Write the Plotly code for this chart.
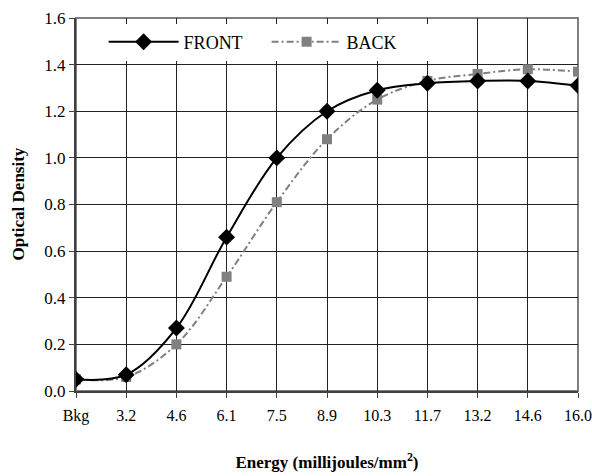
import plotly.graph_objects as go

categories = ["Bkg", "3.2", "4.6", "6.1", "7.5", "8.9", "10.3", "11.7", "13.2", "14.6", "16.0"]
front = [0.05, 0.07, 0.27, 0.66, 1.00, 1.20, 1.29, 1.32, 1.33, 1.33, 1.31]
back = [0.05, 0.06, 0.20, 0.49, 0.81, 1.08, 1.25, 1.33, 1.36, 1.38, 1.37]

FONT = "Liberation Serif, Times New Roman, serif"

fig = go.Figure()
fig.add_trace(go.Scatter(
    x=categories, y=back, name="BACK", mode="lines+markers",
    line=dict(color="#808080", width=2, dash="7px,3px,2px,3px", shape="spline", smoothing=1),
    marker=dict(symbol="square", size=10, color="#808080"),
))
fig.add_trace(go.Scatter(
    x=categories, y=front, name="FRONT", mode="lines+markers",
    line=dict(color="#000000", width=2, shape="spline", smoothing=1),
    marker=dict(symbol="diamond", size=13, color="#000000"),
))

fig.update_layout(
    width=592, height=476,
    margin=dict(l=76, r=14, t=18, b=85),
    paper_bgcolor="white", plot_bgcolor="white",
    font=dict(family=FONT, size=16, color="#000"),
    showlegend=True,
    legend=dict(
        orientation="h", x=0.055, y=0.985, xanchor="left", yanchor="top",
        bgcolor="white", font=dict(family=FONT, size=18, color="#000"),
        traceorder="reversed", itemwidth=70, entrywidth=78,
    ),
    xaxis=dict(
        type="category", range=[0, len(categories) - 1],
        automargin=False, ticklabeloverflow="allow",
        showgrid=True, gridcolor="#222", gridwidth=1,
        showline=True, linecolor="#404040", linewidth=2,
        ticks="outside", ticklen=5, tickcolor="#404040",
        ticklabelstandoff=4,
        tickfont=dict(family=FONT, size=16),
        title=dict(text="<b>Energy (millijoules/mm<sup>2</sup>)</b>", font=dict(family=FONT, size=17), standoff=32),
        zeroline=False,
    ),
    yaxis=dict(
        range=[0, 1.6], dtick=0.2, tickformat=".1f",
        automargin=False,
        showgrid=True, gridcolor="#222", gridwidth=1,
        showline=True, linecolor="#404040", linewidth=2,
        ticks="outside", ticklen=5, tickcolor="#404040",
        tickfont=dict(family=FONT, size=17),
        zeroline=False,
    ),
    annotations=[dict(
        text="<b>Optical Density</b>", xref="paper", yref="paper",
        x=-0.1155, y=0.5, xanchor="center", yanchor="middle", textangle=-90,
        showarrow=False, font=dict(family=FONT, size=17, color="#000"),
    )],
    shapes=[dict(type="rect", xref="paper", yref="paper", x0=0, y0=0, x1=1, y1=1,
                 line=dict(color="#808080", width=2), layer="below")],
)

# remove the browser's default body margin so the 592x476 figure fills the window exactly
fig.write_html(
    "out.html",
    config={"displayModeBar": False},
    post_script="document.body.style.margin='0';document.body.style.overflow='hidden';",
)
